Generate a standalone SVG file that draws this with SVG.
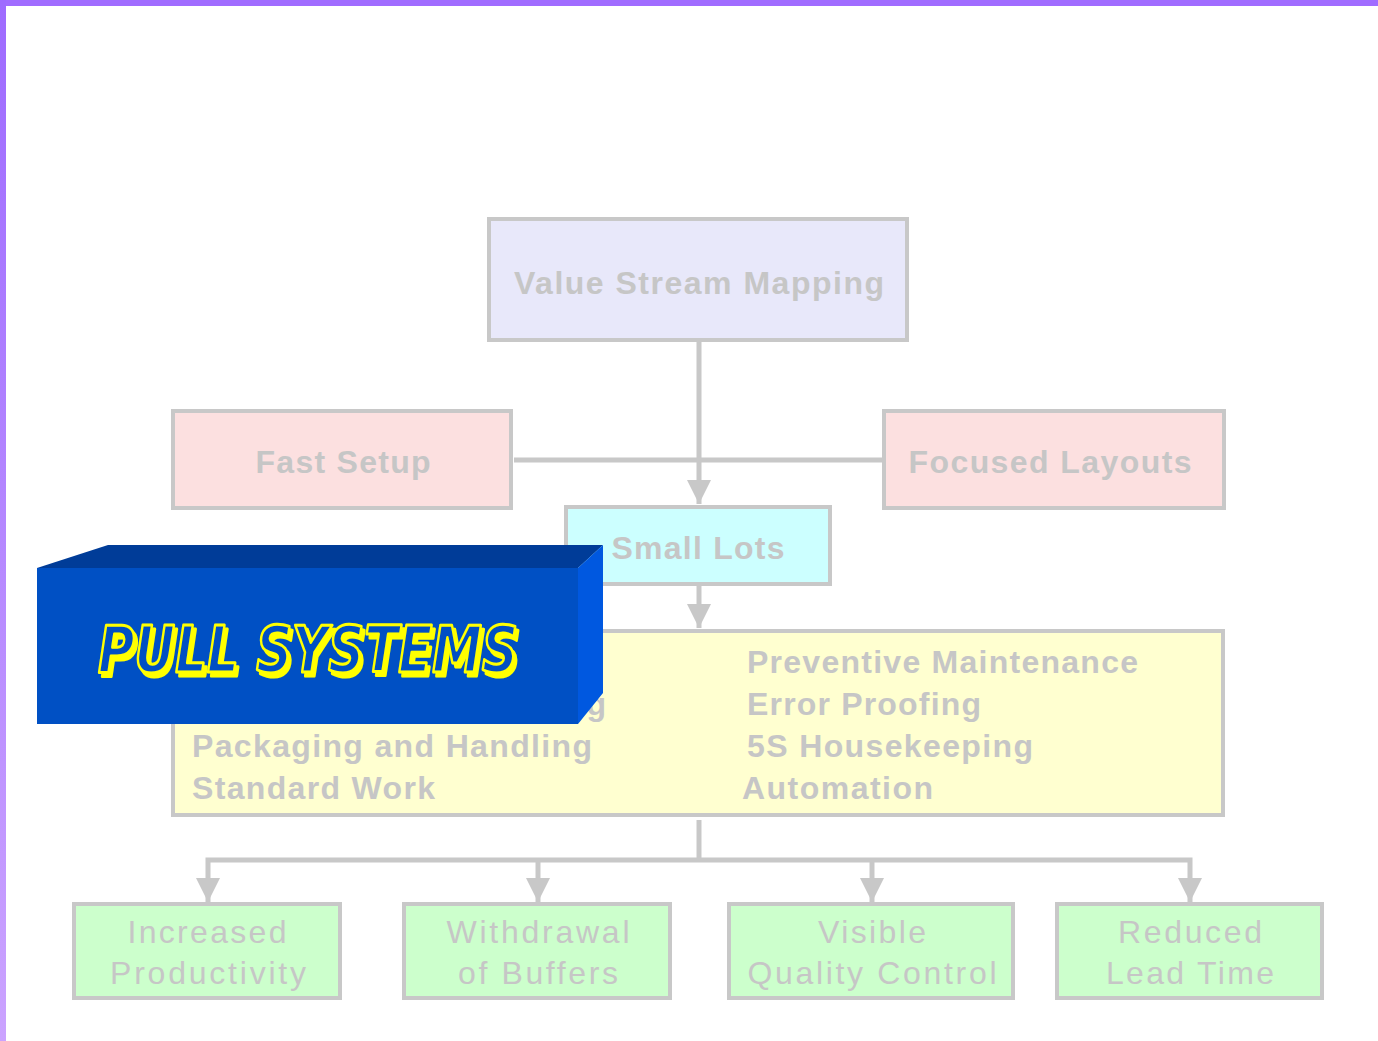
<svg xmlns="http://www.w3.org/2000/svg" width="1378" height="1041" viewBox="0 0 1378 1041">
  <defs>
    <linearGradient id="sideBar" x1="0" y1="0" x2="0" y2="1">
      <stop offset="0" stop-color="#9e6bff"/>
      <stop offset="1" stop-color="#cba3ff"/>
    </linearGradient>
    <marker id="arrow" viewBox="0 0 24 24" refX="24" refY="12" markerWidth="24" markerHeight="24" markerUnits="userSpaceOnUse" orient="auto-start-reverse">
      <path d="M0,0 L24,12 L0,24 Z" fill="#c8c8c8"/>
    </marker>
    <filter id="yellowShadow" x="-10%" y="-20%" width="120%" height="150%">
      <feDropShadow dx="3" dy="4" stdDeviation="0" flood-color="#ffff00" flood-opacity="1"/>
    </filter>
    <style>
      .box { stroke: #c8c8c8; stroke-width: 4; }
      .lbl { font-family: "Liberation Sans", Arial, sans-serif; fill: #c6c6c6; font-size: 32px; }
      .b { font-weight: bold; }
      .mid { text-anchor: middle; }
      .wire { stroke: #c8c8c8; stroke-width: 5; fill: none; }
      .pull { font-family: "DejaVu Sans", sans-serif; font-weight: bold; font-style: italic; font-size: 64px; text-anchor: middle; }
    </style>
  </defs>

  <rect width="1378" height="1041" fill="#ffffff"/>
  <!-- slide frame -->
  <rect x="0" y="0" width="1378" height="6" fill="#a06cff"/>
  <rect x="0" y="0" width="6" height="1041" fill="url(#sideBar)"/>

  <!-- connectors -->
  <g id="connectors">
    <line class="wire" x1="514" y1="460" x2="884" y2="460"/>
    <line class="wire" x1="699" y1="341" x2="699" y2="504" marker-end="url(#arrow)"/>
    <line class="wire" x1="699" y1="586" x2="699" y2="628" marker-end="url(#arrow)"/>
    <polyline class="wire" points="699,820 699,860"/>
    <polyline class="wire" points="208,902 208,860 1190,860 1190,902" marker-start="url(#arrow)" marker-end="url(#arrow)"/>
    <line class="wire" x1="538" y1="860" x2="538" y2="902" marker-end="url(#arrow)"/>
    <line class="wire" x1="872" y1="860" x2="872" y2="902" marker-end="url(#arrow)"/>
  </g>

  <g id="value-stream-mapping">
    <rect class="box" x="489" y="219" width="418" height="121" fill="#e8e8fa"/>
    <text class="lbl b mid" x="699" y="294" font-size="33" textLength="370" fill="#cacad6">Value Stream Mapping</text>
  </g>

  <g id="fast-setup">
    <rect class="box" x="173" y="411" width="338" height="97" fill="#fce0e0"/>
    <text class="lbl b mid" x="343" y="473" textLength="175">Fast Setup</text>
  </g>

  <g id="focused-layouts">
    <rect class="box" x="884" y="411" width="340" height="97" fill="#fce0e0"/>
    <text class="lbl b mid" x="1050" y="473" textLength="283">Focused Layouts</text>
  </g>

  <g id="small-lots">
    <rect class="box" x="566" y="507" width="264" height="77" fill="#ccffff"/>
    <text class="lbl b mid" x="698" y="559" textLength="173">Small Lots</text>
  </g>

  <g id="practices">
    <rect class="box" x="173" y="631" width="1050" height="184" fill="#ffffd0"/>
    <text class="lbl b" x="606" y="715" text-anchor="end" font-size="31">g</text>
    <text class="lbl b" x="192" y="757" font-size="31" textLength="400">Packaging and Handling</text>
    <text class="lbl b" x="192" y="799" font-size="31" textLength="243">Standard Work</text>
    <text class="lbl b" x="747" y="673" font-size="31" textLength="391">Preventive Maintenance</text>
    <text class="lbl b" x="747" y="715" font-size="31" textLength="234">Error Proofing</text>
    <text class="lbl b" x="747" y="757" font-size="31" textLength="286">5S Housekeeping</text>
    <text class="lbl b" x="742" y="799" font-size="31" textLength="191">Automation</text>
  </g>

  <g id="increased-productivity">
    <rect class="box" x="74" y="904" width="266" height="94" fill="#ccffcc"/>
    <text class="lbl mid" x="207" y="943" textLength="159">Increased</text>
    <text class="lbl mid" x="208" y="984" textLength="196">Productivity</text>
  </g>

  <g id="withdrawal-of-buffers">
    <rect class="box" x="404" y="904" width="266" height="94" fill="#ccffcc"/>
    <text class="lbl mid" x="538" y="943" textLength="183">Withdrawal</text>
    <text class="lbl mid" x="538" y="984" textLength="160">of Buffers</text>
  </g>

  <g id="visible-quality-control">
    <rect class="box" x="729" y="904" width="284" height="94" fill="#ccffcc"/>
    <text class="lbl mid" x="872" y="943" textLength="108">Visible</text>
    <text class="lbl mid" x="872" y="984" textLength="249">Quality Control</text>
  </g>

  <g id="reduced-lead-time">
    <rect class="box" x="1057" y="904" width="265" height="94" fill="#ccffcc"/>
    <text class="lbl mid" x="1190" y="943" textLength="144">Reduced</text>
    <text class="lbl mid" x="1190" y="984" textLength="168">Lead Time</text>
  </g>

  <!-- raised title block -->
  <g id="pull-systems">
    <polygon points="37,568 108,545 603,545 578,568" fill="#003c98"/>
    <polygon points="578,568 603,545 603,693 578,724" fill="#0058e0"/>
    <rect x="37" y="568" width="541" height="156" fill="#0050c4"/>
    <text class="pull" x="308" y="672" textLength="420" lengthAdjust="spacingAndGlyphs" fill="#0050c4" stroke="#ffff00" stroke-width="3" stroke-linejoin="round" filter="url(#yellowShadow)">PULL SYSTEMS</text>
  </g>
</svg>
